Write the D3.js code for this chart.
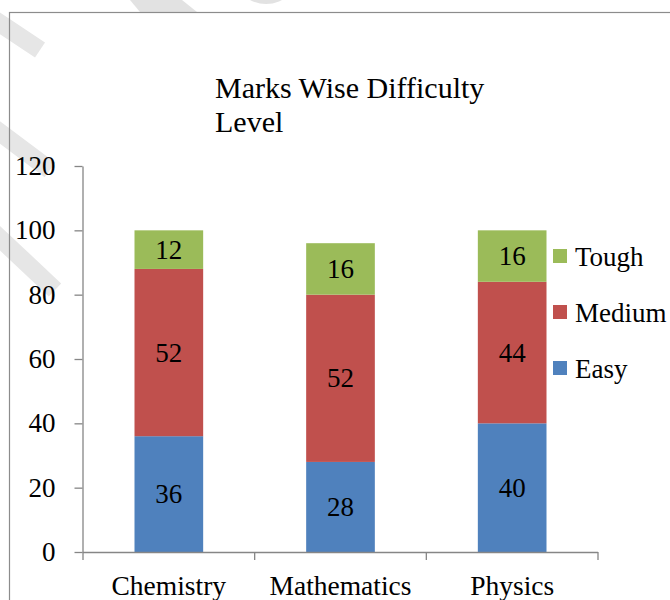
<!DOCTYPE html>
<html>
<head>
<meta charset="utf-8">
<script src="https://cdn.jsdelivr.net/npm/d3@7"></script>
<style>
  body { margin: 0; background: #fff; }
  text { font-family: "Liberation Serif", "Times New Roman", serif; fill: #000; }
</style>
</head>
<body>
<div id="chart-area"></div>
<script>
var subjects = ["Chemistry", "Mathematics", "Physics"];
var levels = ["Easy", "Medium", "Tough"];
var easy = [36, 28, 40];
var medium = [52, 52, 44];
var tough = [12, 16, 16];
var yTicks = [0, 20, 40, 60, 80, 100, 120];
var titleLines = ["Marks Wise Difficulty", "Level"];

var width = 670, height = 600;

var color = d3.scaleOrdinal()
    .domain(levels)
    .range(["#4f81bd", "#c0504d", "#9bbb59"]);

var svg = d3.select("#chart-area").append("svg")
    .attr("width", width)
    .attr("height", height);

// faint watermark shapes behind everything
var wm = svg.append("g").attr("fill", "#e2e2e2");
wm.append("path").attr("d", "M130,0 L182,0 L197,12 L140,12 Z");
wm.append("circle").attr("cx", 266).attr("cy", -30).attr("r", 34);
[[-20, 10, 40, 50], [-30, 110, 50, 170], [-30, 210, 55, 290]].forEach(function(s) {
  wm.append("line")
      .attr("x1", s[0]).attr("y1", s[1]).attr("x2", s[2]).attr("y2", s[3])
      .attr("stroke", "#e6e6e6")
      .attr("stroke-width", 18);
});

// chart frame
svg.append("rect")
    .attr("x", 9.5).attr("y", 12.5)
    .attr("width", 700).attr("height", 700)
    .attr("fill", "none")
    .attr("stroke", "#8c8c8c")
    .attr("stroke-width", 1.2);

var x = d3.scaleBand()
    .domain(subjects)
    .range([83, 598])
    .paddingInner(0.6)
    .paddingOuter(0.3);

var y = d3.scaleLinear()
    .domain([0, 120])
    .range([552, 166]);

var rows = subjects.map(function(s, i) {
  return { subject: s, Easy: easy[i], Medium: medium[i], Tough: tough[i] };
});

var stacked = d3.stack().keys(levels)(rows);

// bars
var layer = svg.selectAll(".layer")
    .data(stacked)
    .enter().append("g")
    .attr("class", "layer")
    .attr("fill", function(d) { return color(d.key); });

layer.selectAll("rect")
    .data(function(d) { return d; })
    .enter().append("rect")
    .attr("x", function(d) { return x(d.data.subject); })
    .attr("y", function(d) { return y(d[1]); })
    .attr("width", x.bandwidth())
    .attr("height", function(d) { return y(d[0]) - y(d[1]); });

layer.selectAll(".val")
    .data(function(d) { return d; })
    .enter().append("text")
    .attr("class", "val")
    .attr("x", function(d) { return x(d.data.subject) + x.bandwidth() / 2; })
    .attr("y", function(d) { return (y(d[0]) + y(d[1])) / 2; })
    .attr("text-anchor", "middle")
    .attr("dominant-baseline", "central")
    .style("font-size", "27px")
    .text(function(d) { return d[1] - d[0]; });

// y axis
var yAxis = svg.append("g")
    .attr("transform", "translate(82.5,0)")
    .call(d3.axisLeft(y).tickValues(yTicks).tickSizeInner(8).tickSizeOuter(0).tickPadding(19));
yAxis.select(".domain").attr("stroke", "#868686").attr("stroke-width", 1.3);
yAxis.selectAll(".tick line").attr("stroke", "#868686").attr("stroke-width", 1.3);
yAxis.selectAll(".tick text")
    .style("font-size", "27px")
    .attr("font-family", null);

// x axis
var bounds = subjects.map(function(s) { return x(s) - x.step() * x.paddingInner() / 2; });
bounds[0] = x.range()[0];
bounds.push(x.range()[1]);

var xAxis = svg.append("g").attr("class", "x-axis");
xAxis.append("line")
    .attr("x1", x.range()[0]).attr("x2", x.range()[1])
    .attr("y1", y(0) + 0.5).attr("y2", y(0) + 0.5)
    .attr("stroke", "#868686").attr("stroke-width", 1.3);
xAxis.selectAll(".xtick")
    .data(bounds)
    .enter().append("line")
    .attr("class", "xtick")
    .attr("x1", function(d) { return d; }).attr("x2", function(d) { return d; })
    .attr("y1", y(0)).attr("y2", y(0) + 8)
    .attr("stroke", "#868686").attr("stroke-width", 1.3);
xAxis.selectAll(".xlabel")
    .data(subjects)
    .enter().append("text")
    .attr("class", "xlabel")
    .attr("x", function(d) { return x(d) + x.bandwidth() / 2; })
    .attr("y", 595)
    .attr("text-anchor", "middle")
    .style("font-size", "27.5px")
    .text(function(d) { return d; });

// title
svg.append("g").selectAll("text")
    .data(titleLines)
    .enter().append("text")
    .attr("x", 215)
    .attr("y", function(d, i) { return 98 + i * 34; })
    .style("font-size", "30px")
    .text(function(d) { return d; });

// legend
var legend = svg.append("g")
    .attr("class", "legend")
    .attr("transform", "translate(553,256)");

levels.slice().reverse().forEach(function(level, i) {
  var row = legend.append("g")
      .attr("transform", "translate(0," + (i * 56) + ")");
  row.append("rect")
      .attr("y", -7)
      .attr("width", 14)
      .attr("height", 14)
      .attr("fill", color(level));
  row.append("text")
      .attr("x", 22)
      .attr("y", 1)
      .attr("dominant-baseline", "central")
      .style("font-size", "27px")
      .text(level);
});
</script>
</body>
</html>
